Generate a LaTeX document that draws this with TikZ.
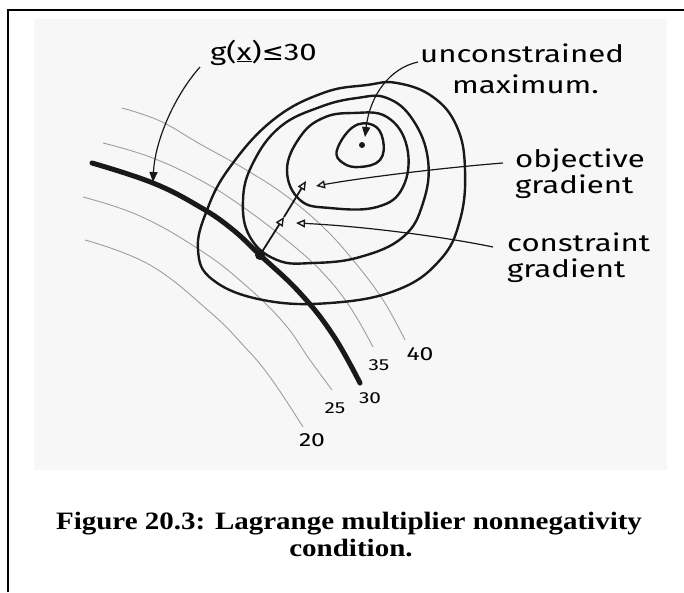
\documentclass[tikz,border=0pt]{standalone}
\usepackage{fontspec}
\setmainfont{Liberation Serif}
\newfontfamily\capfont[FakeStretch=1.16]{Liberation Serif}
\newfontfamily\hand[FakeStretch=1.3]{Fira Sans}
\newfontfamily\symf[FakeStretch=1.1]{DejaVu Sans}
\usetikzlibrary{arrows.meta}
\begin{document}
\begin{tikzpicture}[x=1pt,y=-1pt,
  contour/.style={line width=2.4pt, line join=round, draw=black!90},
  level/.style={draw=black!38, line width=0.9pt},
  thickc/.style={line width=5pt, line cap=round, draw=black!90},
  pointer/.style={line width=1.2pt, draw=black!90},
  openhead/.style={-{Triangle[open,length=9pt,width=8pt,line width=1.4pt]}},
  fillhead/.style={-{Triangle[length=10pt,width=8pt]}},
  lbl/.style={font=\hand\fontsize{24}{26}\selectfont, inner sep=0pt, anchor=base west},
  num/.style={font=\hand\fontsize{16}{18}\selectfont, inner sep=0pt},
  bignum/.style={font=\hand\fontsize{19}{20}\selectfont, inner sep=0pt},
  captxt/.style={font=\capfont\bfseries\fontsize{25}{27}\selectfont, inner sep=0pt, anchor=base}
]
\useasboundingbox (0,0) rectangle (684,592);
\fill[white] (0,0) rectangle (684,592);
\fill[black!3] (34,19) rectangle (667,470);
\draw[line width=2pt] (8,592) -- (8,10) -- (684,10);

% level curves of the constraint
\draw[level] plot[smooth, tension=0.7] coordinates {(122,108) (160,121) (200,144) (243,168) (285,195) (323,227) (353,260) (383,300) (405,340)};
\draw[level] plot[smooth, tension=0.7] coordinates {(103,143) (150,157) (200,180) (243,207) (290,243) (323,273) (350,307) (373,347)};
\draw[level] plot[smooth, tension=0.7] coordinates {(83,197) (140,216) (200,250) (243,283) (283,322) (310,360) (332,390)};
\draw[level] plot[smooth, tension=0.7] coordinates {(85,240) (150,265) (210,312) (243,345) (270,377) (303,427)};
\draw[thickc] plot[smooth, tension=0.7] coordinates {(92,163) (153,183) (200,207) (232,229) (260,255) (300,293) (333,335) (360,383)};

% objective contours
\draw[contour] plot[smooth cycle, tension=0.7] coordinates {(397,83) (433,97) (457,127) (465,170) (460,220) (440,260) (397,290) (330,303) (263,300) (213,280) (198,250) (207,210) (230,167) (273,120) (323,93) (367,85)};
\draw[contour] plot[smooth cycle, tension=0.7] coordinates {(387,98) (413,120) (428,160) (423,203) (403,237) (360,257) (313,263) (277,260) (250,237) (243,200) (253,163) (280,127) (320,107) (357,98)};
\draw[contour] plot[smooth cycle, tension=0.7] coordinates {(353,113) (387,117) (407,147) (403,187) (377,207) (330,208) (300,200) (287,170) (300,137) (323,118)};
\draw[contour] plot[smooth cycle, tension=0.7] coordinates {(337,150) (353,127) (373,125) (383,140) (380,160) (360,167) (343,163)};

% points
\node[circle, fill=black!90, inner sep=0pt, minimum size=10pt] (cp) at (260,255) {};
\node[circle, fill=black!90, inner sep=0pt, minimum size=6pt] (mx) at (362,145) {};

% gradients
\coordinate (cg) at (284,217);
\coordinate (og) at (306,181);
\draw[line width=1.8pt, draw=black!90, openhead] (cp.center) -- (cg);
\draw[line width=1.8pt, draw=black!90, openhead] (cg) -- (og);

% labels
\node[lbl] (gl) at (210,60) {g(\underline{x}){\symf ≤}30};
\node[lbl] (ul) at (420,62) {unconstrained};
\node[lbl] (ml) at (452,93) {maximum.};
\node[lbl] (ol) at (515,167) {objective};
\node[lbl] (og2) at (515,193) {gradient};
\node[lbl] (cl) at (507,251) {constraint};
\node[lbl] (cg2) at (507,277) {gradient};

% pointers
\coordinate (gs) at (200,67);
\coordinate (gt) at (153,182);
\draw[pointer, fillhead] (gs) .. controls (175,95) and (155,140) .. (gt);
\coordinate (us) at (418,62);
\coordinate (ut) at (365,137);
\draw[pointer, fillhead] (us) .. controls (390,68) and (370,95) .. (ut);
\coordinate (os) at (503,163);
\coordinate (ot) at (316,186);
\draw[pointer, openhead] (os) .. controls (440,168) and (360,178) .. (ot);
\coordinate (cs) at (493,247);
\coordinate (ct) at (296,223);
\draw[pointer, openhead] (cs) .. controls (440,236) and (360,226) .. (ct);

% level numbers
\node[bignum] (n40) at (420,354) {40};
\node[num] (n35) at (379,365) {35};
\node[num] (n30) at (370,398) {30};
\node[num] (n25) at (335,408) {25};
\node[bignum] (n20) at (312,440) {20};

% caption
\node[captxt] (c1) at (349,529) {Figure 20.3: Lagrange multiplier nonnegativity};
\node[captxt] (c2) at (351,556) {condition.};
\end{tikzpicture}
\end{document}
